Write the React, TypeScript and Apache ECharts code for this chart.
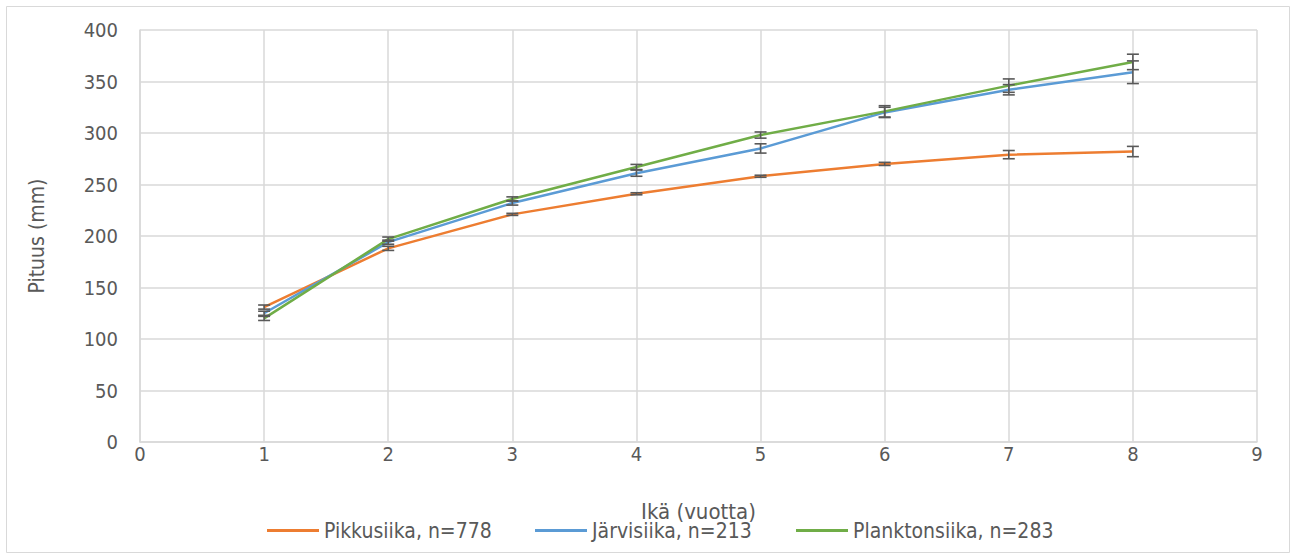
import React, { useEffect, useRef } from "react";
import * as echarts from "echarts";

const ages = [1, 2, 3, 4, 5, 6, 7, 8];
const pikkusiika = [131, 188, 221, 241, 258, 270, 279, 282];
const pikkusiikaErr = [2, 2, 1, 1, 1, 1.5, 4, 5];
const jarvisiika = [125, 194, 232, 261, 285, 320, 342, 359];
const jarvisiikaErr = [2, 2, 2, 3, 4.5, 5, 5, 11];
const plankton = [120, 197, 236, 267, 298, 321, 346, 369];
const planktonErr = [2, 2, 2, 2.5, 3, 5.5, 6.5, 7.5];

const seriesNames = ["Pikkusiika, n=778", "Järvisiika, n=213", "Planktonsiika, n=283"];
const colors = ["#ED7D31", "#5B9BD5", "#70AD47"];
const xTitle = "Ikä (vuotta)";
const yTitle = "Pituus (mm)";

const FONT = "'DejaVu Sans Condensed', 'Liberation Sans Narrow', 'Open Sans', sans-serif";

export default function App() {
  const ref = useRef<HTMLDivElement>(null);
  useEffect(() => {
    document.body.style.margin = "0";
    const chart = echarts.init(ref.current!, null, { renderer: "svg" });
    const values = [pikkusiika, jarvisiika, plankton];
    const errs = [pikkusiikaErr, jarvisiikaErr, planktonErr];
    const lineSeries = values.map((vals, i) => ({
      name: seriesNames[i],
      type: "line",
      data: ages.map((a, j) => [a, vals[j]]),
      showSymbol: false,
      symbol: "none",
      lineStyle: { color: colors[i], width: 2.5 },
      itemStyle: { color: colors[i] },
      z: 2 + i,
    }));
    const errSeries = values.map((vals, i) => ({
      type: "custom",
      name: "err" + i,
      z: 10,
      data: ages.map((a, j) => [a, vals[j] - errs[i][j], vals[j] + errs[i][j]]),
      renderItem: (params: any, api: any) => {
        const x = api.value(0);
        const lo = api.coord([x, api.value(1)]);
        const hi = api.coord([x, api.value(2)]);
        const w = 6;
        const style = { stroke: "#595959", lineWidth: 1.6 };
        return {
          type: "group",
          children: [
            { type: "line", shape: { x1: lo[0], y1: lo[1], x2: hi[0], y2: hi[1] }, style },
            { type: "line", shape: { x1: lo[0] - w, y1: lo[1], x2: lo[0] + w, y2: lo[1] }, style },
            { type: "line", shape: { x1: hi[0] - w, y1: hi[1], x2: hi[0] + w, y2: hi[1] }, style },
          ],
        };
      },
    }));
    const legendLefts = [262, 530, 791];
    chart.setOption({
      animation: false,
      backgroundColor: "#ffffff",
      textStyle: { fontFamily: FONT },
      grid: { left: 140, right: 34, top: 30, bottom: 118 },
      legend: seriesNames.map((n, i) => ({
        data: [{ name: n, icon: "rect" }],
        left: legendLefts[i],
        top: 515,
        itemWidth: 52,
        itemHeight: 3,
        itemGap: 3,
        textStyle: { fontFamily: FONT, fontSize: 21, color: "#595959" },
      })),
      xAxis: {
        type: "value",
        min: 0,
        max: 9,
        interval: 1,
        name: xTitle,
        nameLocation: "middle",
        nameGap: 58,
        nameTextStyle: { fontFamily: FONT, fontSize: 22, color: "#595959" },
        axisLine: { show: true, lineStyle: { color: "#d9d9d9", width: 1.5 } },
        axisTick: { show: false },
        axisLabel: { fontFamily: FONT, fontSize: 20, color: "#595959", margin: 2 },
        splitLine: { show: true, lineStyle: { color: "#d9d9d9", width: 1.5 } },
      },
      yAxis: {
        type: "value",
        min: 0,
        max: 400,
        interval: 50,
        name: yTitle,
        nameLocation: "middle",
        nameGap: 93,
        nameTextStyle: { fontFamily: FONT, fontSize: 21, color: "#595959" },
        axisLine: { show: true, lineStyle: { color: "#d9d9d9", width: 1.5 } },
        axisTick: { show: false },
        axisLabel: { fontFamily: FONT, fontSize: 20, color: "#595959", margin: 22 },
        splitLine: { show: true, lineStyle: { color: "#d9d9d9", width: 1.5 } },
      },
      graphic: [
        {
          type: "rect",
          shape: { x: 6.5, y: 6.5, width: 1283, height: 546 },
          style: { fill: "none", stroke: "#d9d9d9", lineWidth: 1 },
          silent: true,
          z: -1,
        },
      ],
      series: [...lineSeries, ...errSeries],
    });
    return () => chart.dispose();
  }, []);
  return (
    <div
      ref={ref}
      style={{ position: "absolute", left: 0, top: 0, width: 1291, height: 560 }}
    />
  );
}
